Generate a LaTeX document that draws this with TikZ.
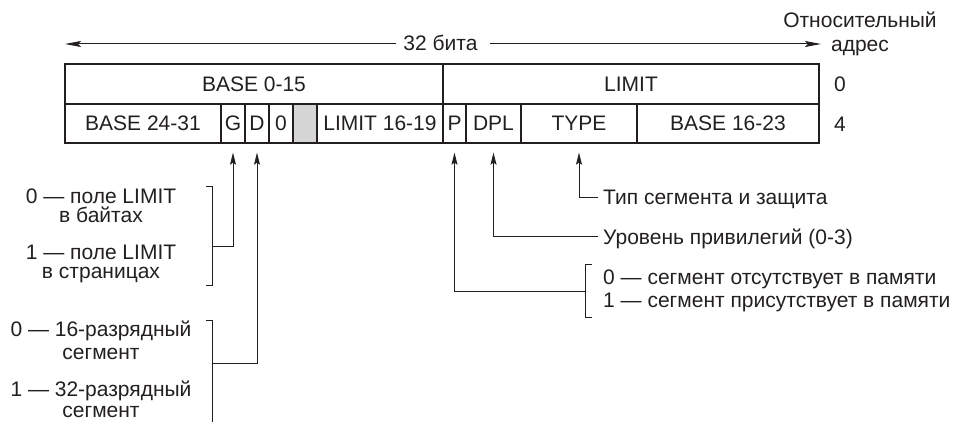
\documentclass[tikz,border=0pt]{standalone}
\usepackage{fontspec}
\setmainfont{Liberation Sans}
\usetikzlibrary{arrows.meta}
\definecolor{ink}{HTML}{231F20}
\definecolor{shade}{HTML}{D6D6D6}
\begin{document}
\begin{tikzpicture}[x=1pt,y=-1pt,
  every node/.style={font=\fontsize{21}{21}\selectfont, text=ink},
  cell/.style={draw=ink, line width=1.3pt, inner sep=0pt, minimum height=#1},
  cell/.default=39pt,
  lbl/.style={anchor=base, inner sep=0pt},
  lblw/.style={anchor=base west, inner sep=0pt},
  conn/.style={draw=ink, line width=1pt},
  arr/.style={conn, -{Stealth[length=12pt,width=6pt,inset=2pt]}, shorten >=9pt},
  toparr/.style={conn, -{Stealth[length=16pt,width=6pt,inset=3pt]}}
]
\useasboundingbox (0,0) rectangle (959,422);

% top row
\node[cell=40pt, minimum width=378pt] (base015) at (254,84) {BASE 0-15};
\node[cell=40pt, minimum width=376pt] (limit) at (631,84) {LIMIT};
% bottom row
\node[cell, minimum width=156pt] (b2431) at (143,123.5) {BASE 24-31};
\node[cell, minimum width=24pt] (G) at (233,123.5) {G};
\node[cell, minimum width=24pt] (D) at (257,123.5) {D};
\node[cell, minimum width=24pt] (Z) at (281,123.5) {0};
\node[cell, minimum width=24pt, fill=shade] (gray) at (305,123.5) {};
\node[cell, minimum width=126pt] (l1619) at (380,123.5) {LIMIT 16-19};
\node[cell, minimum width=23pt] (P) at (454.5,123.5) {P};
\node[cell, minimum width=55pt] (DPL) at (493.5,123.5) {DPL};
\node[cell, minimum width=116pt] (TYPE) at (579,123.5) {TYPE};
\node[cell, minimum width=182pt] (b1623) at (728,123.5) {BASE 16-23};

% row offsets
\node[lbl] (off0) at (840,92) {0};
\node[lbl] (off4) at (840,131.5) {4};

% top arrow
\node[lbl] (bits) at (440.5,51) {32 бита};
\coordinate (bitsL) at (396,44);
\coordinate (bitsR) at (490,44);
\coordinate (leftend) at (65,44);
\coordinate (rightend) at (821,44);
\draw[toparr] (bitsL) -- (leftend);
\draw[toparr] (bitsR) -- (rightend);
\node[lbl] (rel1) at (860,28) {Относительный};
\node[lbl] (rel2) at (860,52) {адрес};

% left bracket 1 (G)
\coordinate (g1) at (206,187);
\coordinate (g2) at (212,187);
\coordinate (g3) at (212,286);
\coordinate (g4) at (206,286);
\coordinate (gmid) at (212,247);
\draw[conn] (g1) -- (g2) -- (g3) -- (g4);
\draw[arr] (gmid) -| (G.south);
\node[lbl] (gt1) at (101,204) {0 — поле LIMIT};
\node[lbl] (gt2) at (101,223) {в байтах};
\node[lbl] (gt3) at (101,260) {1 — поле LIMIT};
\node[lbl] (gt4) at (101,279) {в страницах};

% left bracket 2 (D)
\coordinate (d1) at (206,320);
\coordinate (d2) at (212,320);
\coordinate (d3) at (212,422);
\coordinate (dmid) at (212,363);
\draw[conn] (d1) -- (d2) -- (d3);
\draw[arr] (dmid) -| (D.south);
\node[lbl] (dt1) at (101,336) {0 — 16-разрядный};
\node[lbl] (dt2) at (101,359) {сегмент};
\node[lbl] (dt3) at (101,396) {1 — 32-разрядный};
\node[lbl] (dt4) at (101,417) {сегмент};

% right: TYPE
\coordinate (tmid) at (598,198);
\draw[arr] (tmid) -| (TYPE.south);
\node[lblw] (tt) at (603,205) {Тип сегмента и защита};

% right: DPL
\coordinate (pmid) at (598,237);
\draw[arr] (pmid) -| (DPL.south);
\node[lblw] (dplt) at (603,245) {Уровень привилегий (0-3)};

% right: P
\coordinate (p1) at (592,265);
\coordinate (p2) at (585,265);
\coordinate (p3) at (585,317);
\coordinate (p4) at (592,317);
\coordinate (pm) at (585,292);
\draw[conn] (p1) -- (p2) -- (p3) -- (p4);
\draw[arr] (pm) -| (P.south);
\node[lblw] (pt1) at (603,285) {0 — сегмент отсутствует в памяти};
\node[lblw] (pt2) at (603,308) {1 — сегмент присутствует в памяти};
\end{tikzpicture}
\end{document}
